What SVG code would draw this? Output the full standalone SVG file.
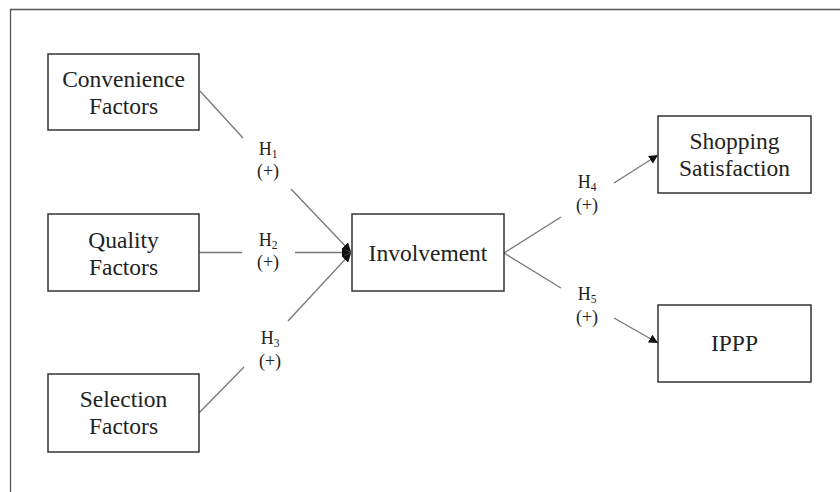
<svg xmlns="http://www.w3.org/2000/svg" width="840" height="492" viewBox="0 0 840 492">
<style>
.box{fill:#fff;stroke:#333;stroke-width:1.5}
.t{font-family:"Liberation Serif","Times New Roman",serif;font-size:23.5px;fill:#222;text-anchor:middle}
.l{font-family:"Liberation Serif","Times New Roman",serif;font-size:18px;fill:#222;text-anchor:middle}
.c{fill:none;stroke:#777;stroke-width:1.3}
.frame{fill:none;stroke:#555;stroke-width:1.3}
</style>
<defs>
<marker id="ah" viewBox="0 0 10 10" refX="10" refY="5" markerWidth="9" markerHeight="9" markerUnits="userSpaceOnUse" orient="auto">
<path d="M0,0 L10,5 L0,10 z" fill="#111"/>
</marker>
</defs>
<rect width="840" height="492" fill="#fff"/>
<path class="frame" d="M10.5,492 V9.5 H840"/>

<g id="connectors">
<line class="c" x1="200" y1="91" x2="243" y2="138"/>
<line class="c" x1="291" y1="189" x2="351" y2="252" marker-end="url(#ah)"/>
<line class="c" x1="199" y1="252.5" x2="242" y2="252.5"/>
<line class="c" x1="295" y1="252.5" x2="351" y2="252.5" marker-end="url(#ah)"/>
<line class="c" x1="199" y1="413" x2="244" y2="367"/>
<line class="c" x1="288" y1="321" x2="351" y2="253" marker-end="url(#ah)"/>
<line class="c" x1="504" y1="253" x2="561" y2="217"/>
<line class="c" x1="614" y1="183" x2="658" y2="155" marker-end="url(#ah)"/>
<line class="c" x1="504" y1="253" x2="561" y2="288"/>
<line class="c" x1="614" y1="318" x2="658" y2="343" marker-end="url(#ah)"/>
<g id="labels">
<text class="l" x="268" y="155">H<tspan font-size="11.5" dy="3">1</tspan></text>
<text class="l" x="268" y="177">(+)</text>
<text class="l" x="268" y="246">H<tspan font-size="11.5" dy="3">2</tspan></text>
<text class="l" x="268" y="268">(+)</text>
<text class="l" x="270" y="344">H<tspan font-size="11.5" dy="3">3</tspan></text>
<text class="l" x="270" y="367">(+)</text>
<text class="l" x="587" y="188">H<tspan font-size="11.5" dy="3">4</tspan></text>
<text class="l" x="587" y="211">(+)</text>
<text class="l" x="587" y="300">H<tspan font-size="11.5" dy="3">5</tspan></text>
<text class="l" x="587" y="323">(+)</text>
</g>
</g>

<g id="convenience">
<rect class="box" x="48" y="54" width="151" height="76"/>
<text class="t" x="123.5" y="87">Convenience</text>
<text class="t" x="123.5" y="114">Factors</text>
</g>
<g id="quality">
<rect class="box" x="48" y="214" width="151" height="77"/>
<text class="t" x="123.5" y="248">Quality</text>
<text class="t" x="123.5" y="275">Factors</text>
</g>
<g id="selection">
<rect class="box" x="48" y="374" width="151" height="78"/>
<text class="t" x="123.5" y="407">Selection</text>
<text class="t" x="123.5" y="434">Factors</text>
</g>
<g id="involvement">
<rect class="box" x="352" y="214" width="152" height="77"/>
<text class="t" x="428" y="261">Involvement</text>
</g>
<g id="shopping">
<rect class="box" x="658" y="116" width="153" height="77"/>
<text class="t" x="734.5" y="149">Shopping</text>
<text class="t" x="734.5" y="176">Satisfaction</text>
</g>
<g id="ippp">
<rect class="box" x="658" y="305" width="153" height="77"/>
<text class="t" x="734.5" y="351">IPPP</text>
</g>
</svg>
